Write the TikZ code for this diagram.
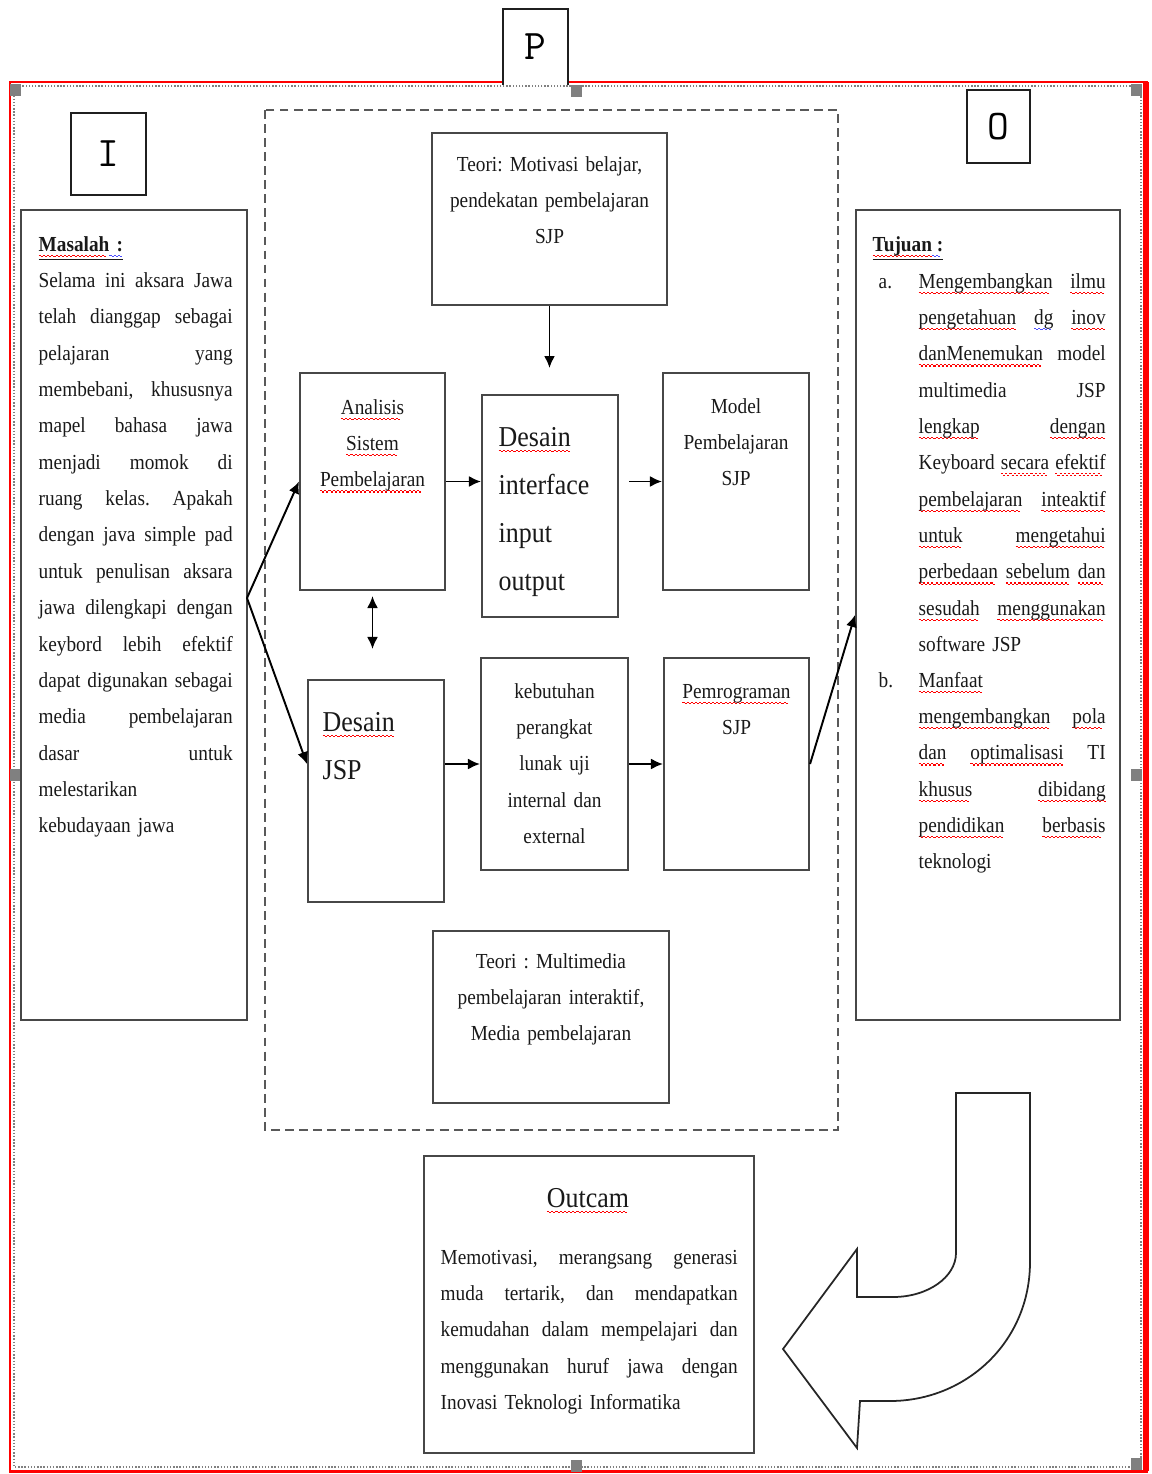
\documentclass[tikz,border=0pt]{standalone}
\usepackage{fontspec}
\setmainfont{Liberation Serif}[FakeStretch=0.9]
\usetikzlibrary{positioning,arrows.meta}
\newlength{\jlw}
\newcommand{\jl}[1]{\makebox[\jlw][s]{\spaceskip=\fontdimen2\font plus 1fil\relax #1}\\}
% spell-check wave under a word
\newcommand{\wave}[2]{\leavevmode\setbox0\hbox{#2}\rlap{\textcolor{#1}{\hbox to \wd0{\leaders\hbox to 2.4pt{\rule[-2.6pt]{1.2pt}{0.6pt}\rule[-3.3pt]{1.2pt}{0.6pt}}\hfill}}}#2}
\newcommand{\sq}[1]{\wave{red}{#1}}
\newcommand{\bq}[1]{\wave{blue!70}{#1}}
\frenchspacing

\begin{document}
\begin{tikzpicture}[x=0.02cm,y=-0.02cm,thick,>={Latex[length=0.24cm,width=0.22cm]},
    box node/.style={rectangle,draw=black!72,line width=1.2pt,inner sep=0pt},
    letter node/.style={rectangle,draw=black!88,line width=1.1pt,inner sep=0pt,font=\ttfamily\fontsize{24}{28}\selectfont},
    small text/.style={inner sep=0pt,align=center,text=black!90,font=\fontsize{12.2}{20.7}\selectfont},
    big text/.style={inner sep=0pt,align=left,text=black!90,font=\fontsize{16.4}{27.5}\selectfont},
    para text/.style={inner sep=0pt,align=left,text=black!90,font=\fontsize{12.2}{20.7}\selectfont}]

    \useasboundingbox (0,0) rectangle (1152,1474);

    % outer frame
    \draw[red,line width=1.7pt] (10,82) rectangle (1146,1471);
    \draw[red,line width=3.2pt] (1146,82) -- (1146,1471);
    \draw[gray,densely dotted,line width=0.8pt] (14,86) rectangle (1141,1467);
    \foreach \hx/\hy in {15/90, 576/91, 1136/90, 15/775, 1136/775, 576/1466, 1136/1464}
        \fill[gray] (\hx-5,\hy-6) rectangle +(11,12);

    % I P O
    \node[letter node,fill=white,draw=none,minimum width=1.26cm,minimum height=1.48cm] at (535.5,47) (p) {P};
    \draw[black!88,line width=1.1pt] (p.south west) |- (p.north east) -- (p.south east);
    \node[letter node,minimum width=1.5cm,minimum height=1.64cm] at (108.5,154) (i) {I};
    \node[letter node,minimum width=1.26cm,minimum height=1.46cm] at (998.5,126.5) (o) {O};

    % input
    \node[box node,minimum width=4.52cm,minimum height=16.2cm] at (134,615) (masalah) {};
    \node[para text,text width=3.88cm,anchor=base west] at (38,251) (masalah-t) {\setlength{\jlw}{3.88cm}%
        \textbf{\underline{\sq{Masalah}\bq{~:}}}\\
        \jl{Selama ini aksara Jawa}
        \jl{telah dianggap sebagai}
        \jl{pelajaran yang}
        \jl{membebani, khususnya}
        \jl{mapel bahasa jawa}
        \jl{menjadi momok di}
        \jl{ruang kelas. Apakah}
        \jl{dengan java simple pad}
        \jl{untuk penulisan aksara}
        \jl{jawa dilengkapi dengan}
        \jl{keybord lebih efektif}
        \jl{dapat digunakan sebagai}
        \jl{media pembelajaran}
        \jl{dasar untuk}
        melestarikan\\
        kebudayaan jawa};

    % process
    \draw[black!65,line width=0.9pt,dash pattern=on 5pt off 3pt] (265,110) rectangle (838,1130);

    \node[box node,minimum width=4.7cm,minimum height=3.44cm] at (549.5,219) (teori1) {};
    \node[small text,text width=4.5cm,anchor=base] at (549.5,171) (teori1-t) {Teori: Motivasi belajar,\\pendekatan pembelajaran\\SJP};
    \coordinate (teori1-end) at (549.5,368);

    \node[box node,minimum width=2.9cm,minimum height=4.34cm] at (372.5,481.5) (anal) {};
    \node[small text,text width=2.8cm,anchor=base] at (372.5,414) (anal-t) {\sq{Analisis}\\\sq{Sistem}\\\sq{Pembelajaran}};

    \node[box node,minimum width=2.72cm,minimum height=4.44cm] at (550,506) (desio) {};
    \node[big text,text width=2.4cm,anchor=base west] at (498,446) (desio-t) {\sq{Desain}\\interface\\input\\output};

    \node[box node,minimum width=2.92cm,minimum height=4.34cm] at (736,481.5) (model) {};
    \node[small text,text width=2.8cm,anchor=base] at (736,413) (model-t) {Model\\Pembelajaran\\SJP};

    \node[box node,minimum width=2.72cm,minimum height=4.44cm] at (376,791) (desjsp) {};
    \node[big text,text width=2.4cm,anchor=base west] at (322,731) (desjsp-t) {\sq{Desain}\\JSP};

    \node[box node,minimum width=2.94cm,minimum height=4.24cm] at (554.5,764) (kebut) {};
    \node[small text,text width=2.8cm,anchor=base] at (554.5,698) (kebut-t) {kebutuhan\\perangkat\\lunak uji\\internal dan\\external};

    \node[box node,minimum width=2.9cm,minimum height=4.24cm] at (736.5,764) (pemrog) {};
    \node[small text,text width=2.8cm,anchor=base] at (736.5,698) (pemrog-t) {\sq{Pemrograman}\\SJP};

    \node[box node,minimum width=4.72cm,minimum height=3.44cm] at (551,1017) (teori2) {};
    \node[small text,text width=4.5cm,anchor=base] at (551,968) (teori2-t) {Teori : Multimedia\\pembelajaran interaktif,\\Media pembelajaran};

    % output
    \node[box node,minimum width=5.28cm,minimum height=16.2cm] at (988,615) (tujuan) {};
    \node[para text,anchor=base west] at (872,251) (tujuan-t) {\textbf{\underline{\sq{Tujuan}\bq{~:}}}};
    \node[para text,anchor=base west] at (878,288) (item-a) {a.};
    \node[para text,text width=3.74cm,anchor=base west] at (918,288) (tujuan-a) {\setlength{\jlw}{3.74cm}%
        \jl{\sq{Mengembangkan} \sq{ilmu}}
        \jl{\sq{pengetahuan} \bq{dg} \sq{inov}}
        \jl{\sq{danMenemukan} model}
        \jl{multimedia JSP}
        \jl{\sq{lengkap} \sq{dengan}}
        \jl{Keyboard \sq{secara} \sq{efektif}}
        \jl{\sq{pembelajaran} \sq{inteaktif}}
        \jl{\sq{untuk} \sq{mengetahui}}
        \jl{\sq{perbedaan} \sq{sebelum} \sq{dan}}
        \jl{\sq{sesudah} \sq{menggunakan}}
        software JSP};
    \node[para text,anchor=base west] at (878,687) (item-b) {b.};
    \node[para text,text width=3.74cm,anchor=base west] at (918,687) (tujuan-b) {\setlength{\jlw}{3.74cm}%
        \sq{Manfaat}\\
        \jl{\sq{mengembangkan} \sq{pola}}
        \jl{\sq{dan} \sq{optimalisasi} TI}
        \jl{\sq{khusus} \sq{dibidang}}
        \jl{\sq{pendidikan} \sq{berbasis}}
        teknologi};

    % outcome
    \node[box node,minimum width=6.6cm,minimum height=5.94cm] at (589,1304.5) (outcam) {};
    \node[big text,text width=4cm,align=center,anchor=base] at (588,1207) (outcam-h) {\sq{Outcam}};
    \node[para text,text width=5.94cm,anchor=base west] at (440,1264) (outcam-t) {\setlength{\jlw}{5.94cm}%
        \jl{Memotivasi, merangsang generasi}
        \jl{muda tertarik, dan mendapatkan}
        \jl{kemudahan dalam mempelajari dan}
        \jl{menggunakan huruf jawa dengan}
        Inovasi Teknologi Informatika};

    \draw[black!85,line width=1pt,fill=white] (956,1093) -- (1030,1093) -- (1030,1262)
        .. controls (1030,1342) and (966,1401) .. (890,1401) -- (860,1401) -- (857,1448)
        -- (783,1349) -- (857,1249) -- (857,1297) -- (893,1297)
        .. controls (928,1297) and (956,1277) .. (956,1253) -- cycle;

    \coordinate (fork) at (247,598);

    \path[->,black,line width=1.1pt]
        (teori1) edge (teori1-end)
        (fork) edge (anal.west)
        (fork) edge (desjsp.west |- kebut)
        (anal.east) edge (anal.east -| desio.west)
        (desio.east |- model.west) edge[shorten <=0.2cm] (model.west)
        (anal.south) edge[<->,shorten <=0.1cm,shorten >=0.6cm] (anal.south |- desjsp.north)
        (desjsp.east |- kebut) edge (kebut.west)
        (kebut) edge (pemrog)
        (pemrog.east) edge (tujuan.west)
        ;
\end{tikzpicture}
\end{document}
